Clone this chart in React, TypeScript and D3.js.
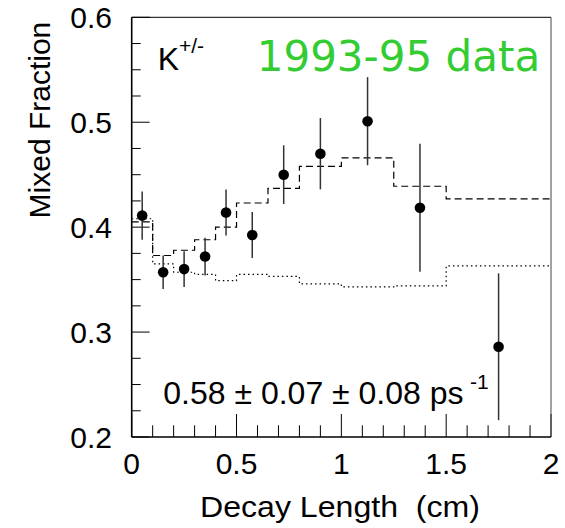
import React from "react";
import * as d3 from "d3";

const pointX = [0.05, 0.15, 0.25, 0.35, 0.45, 0.575, 0.725, 0.9, 1.125, 1.375, 1.75];
const pointY = [0.411, 0.357, 0.36, 0.372, 0.414, 0.3925, 0.45, 0.47, 0.501, 0.4185, 0.286];
const pointErr = [0.023, 0.016, 0.017, 0.018, 0.022, 0.022, 0.028, 0.034, 0.042, 0.061, 0.07];

const binEdges = [0, 0.1, 0.2, 0.3, 0.4, 0.5, 0.65, 0.8, 1.0, 1.25, 1.5, 2.0];
const dashedVals = [0.405, 0.373, 0.378, 0.388, 0.4, 0.423, 0.437, 0.458, 0.466, 0.439, 0.427];
const dottedVals = [0.408, 0.365, 0.357, 0.355, 0.349, 0.355, 0.353, 0.346, 0.343, 0.344, 0.363];

const xTickLabels = ["0", "0.5", "1", "1.5", "2"];
const yTickLabels = ["0.2", "0.3", "0.4", "0.5", "0.6"];

const W = 565;
const H = 528;
const L = 131.7, R = 551, T = 17.3, B = 437;
const FONT = "'Liberation Sans', Arial, Helvetica, sans-serif";

export default function App() {
  const x = d3.scaleLinear().domain([0, 2]).range([L, R]);
  const y = d3.scaleLinear().domain([0.2, 0.6]).range([B, T]);

  const stepPath = (vals: number[]) => {
    const pts: [number, number][] = binEdges.map((e, i) => [e, vals[Math.min(i, vals.length - 1)]]);
    return d3
      .line<[number, number]>()
      .x((d) => x(d[0]))
      .y((d) => y(d[1]))
      .curve(d3.curveStepAfter)(pts) as string;
  };

  const yMinor = d3.range(0, 17).map((i) => 0.2 + i * 0.025);
  const xMinor = d3.range(0, 21).map((i) => i * 0.1);

  return (
    <svg width={W} height={H} style={{ position: "absolute", left: 0, top: 0, background: "#fff" }}>
      <rect x={0} y={0} width={W} height={H} fill="#fff" />
      {/* histograms */}
      <path d={stepPath(dashedVals)} fill="none" stroke="#000" strokeWidth={1.2} strokeDasharray="7,4" />
      <path d={stepPath(dottedVals)} fill="none" stroke="#000" strokeWidth={1.2} strokeDasharray="1.5,3" />

      {/* ticks */}
      {yMinor.map((v, i) => {
        const major = i % 4 === 0;
        return (
          <line key={"yt" + i} x1={L} x2={L + (major ? 18 : 9)} y1={y(v)} y2={y(v)} stroke="#000" strokeWidth={1} />
        );
      })}
      {xMinor.map((v, i) => {
        const major = i % 5 === 0;
        return (
          <line key={"xt" + i} x1={x(v)} x2={x(v)} y1={B} y2={B - (major ? 23 : 11.7)} stroke="#000" strokeWidth={1} />
        );
      })}

      {/* frame */}
      <line x1={L} x2={R} y1={T} y2={T} stroke="#000" strokeWidth={1} />
      <line x1={R} x2={R} y1={T} y2={B} stroke="#444" strokeWidth={1} />
      <line x1={L} x2={L} y1={T} y2={B} stroke="#000" strokeWidth={1.6} />
      <line x1={L} x2={R} y1={B} y2={B} stroke="#000" strokeWidth={1.6} />

      {/* data points */}
      {pointX.map((px, i) => (
        <g key={"p" + i}>
          <line x1={x(px)} x2={x(px)} y1={y(pointY[i] + pointErr[i])} y2={y(pointY[i] - pointErr[i])} stroke="#333" strokeWidth={1.5} />
          <circle cx={x(px)} cy={y(pointY[i])} r={5.3} fill="#000" />
        </g>
      ))}

      {/* tick labels */}
      {yTickLabels.map((t) => (
        <text key={"yl" + t} x={112} y={y(+t) + 11} textAnchor="end" fontFamily={FONT} fontSize={30} fill="#000">
          {t}
        </text>
      ))}
      {xTickLabels.map((t) => (
        <text key={"xl" + t} x={x(+t)} y={474} textAnchor="middle" fontFamily={FONT} fontSize={30} fill="#000">
          {t}
        </text>
      ))}

      {/* axis titles */}
      <text transform="translate(50,21.7) rotate(-90)" textAnchor="end" fontFamily={FONT} fontSize={30} fill="#000">
        Mixed Fraction
      </text>
      <text x={200} y={517} fontFamily={FONT} fontSize={30} textLength={280} lengthAdjust="spacingAndGlyphs" fill="#000" xmlSpace="preserve">
        Decay Length  (cm)
      </text>

      {/* annotations */}
      <text x={157.7} y={70} fontFamily={FONT} fontSize={32} fill="#000">K</text>
      <text x={179} y={53} fontFamily={FONT} fontSize={21} fill="#000">+/-</text>

      <text x={256.7} y={70.7} fontFamily="'DejaVu Sans', Verdana, sans-serif" fontSize={42} fill="#33cc33">
        1993-95 data
      </text>

      <text x={163.3} y={404.3} fontFamily={FONT} fontSize={32} fill="#000">
        0.58 ± 0.07 ± 0.08 ps
      </text>
      <text x={470} y={389} fontFamily={FONT} fontSize={21} fill="#000">-1</text>
    </svg>
  );
}
